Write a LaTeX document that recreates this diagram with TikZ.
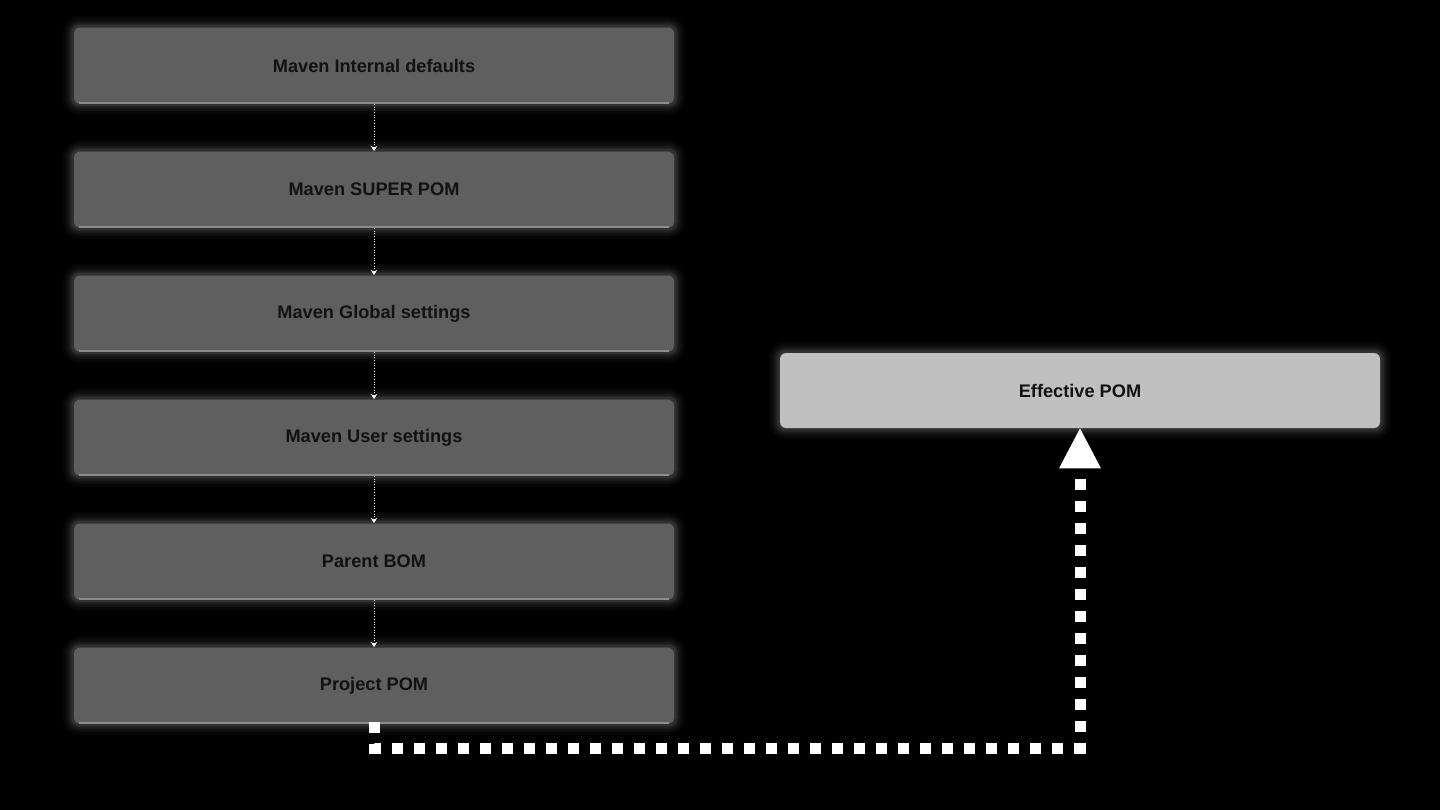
\documentclass[tikz,border=0pt]{standalone}
\usepackage{fontspec}
\setmainfont{Liberation Sans}
\usetikzlibrary{arrows.meta,backgrounds}
\definecolor{boxgray}{HTML}{5F5F5F}
\definecolor{effgray}{HTML}{C0C0C0}
\definecolor{txt}{HTML}{121212}
\definecolor{edge}{HTML}{8C8C8C}
\tikzset{
  box/.style={rectangle, rounded corners=3pt, fill=boxgray, minimum width=300pt, minimum height=38pt,
    inner sep=0pt, text=txt, font=\fontsize{9.1}{11}\selectfont\bfseries},
  effbox/.style={box, fill=effgray, minimum height=37.5pt},
  smallarrow/.style={draw=white, line width=0.45pt, dash pattern=on 0.45pt off 0.9pt, -{Stealth[length=2.6pt,width=3.2pt]}},
  bigconn/.style={draw=white, line width=5.5pt, dash pattern=on 5.5pt off 5.5pt,
    -{Triangle[width=21pt,length=20pt,line width=0pt]}},
  glowline/.style={draw=white, rounded corners=3pt},
  edgeline/.style={draw=edge, line width=1pt},
}
\newcommand{\glowbox}[1]{%
  \foreach \k/\o in {11/0.02,9/0.025,7/0.03,5/0.04,3.5/0.05,2/0.06}{%
    \draw[glowline, line width=\k pt, draw opacity=\o] (#1.south west) rectangle (#1.north east);
  }%
}
\newcommand{\bottomedge}[1]{%
  \draw[edgeline] ([xshift=2.5pt,yshift=0.5pt]#1.south west) -- ([xshift=-2.5pt,yshift=0.5pt]#1.south east);
}
\begin{document}
\begin{tikzpicture}[x=0.5pt, y=-0.5pt]
\useasboundingbox (0,0) rectangle (1440,810);
\begin{scope}[on background layer]
  \fill[black] (0,0) rectangle (1440,810);
\end{scope}

\node[box] (n1) at (374,65.5) {Maven Internal defaults};
\node[box] (n2) at (374,189.5) {Maven SUPER POM};
\node[box] (n3) at (374,313.5) {Maven Global settings};
\node[box] (n4) at (374,437.5) {Maven User settings};
\node[box] (n5) at (374,561.5) {Parent BOM};
\node[box] (n6) at (374,685.5) {Project POM};
\node[effbox] (eff) at (1080,390.5) {Effective POM};

\begin{scope}[on background layer]
  \foreach \n in {n1,n2,n3,n4,n5,n6,eff}{\glowbox{\n}}
\end{scope}
\foreach \n in {n1,n2,n3,n4,n5,n6}{\bottomedge{\n}}

\draw[smallarrow] (n1.south) -- (n2.north);
\draw[smallarrow] (n2.south) -- (n3.north);
\draw[smallarrow] (n3.south) -- (n4.north);
\draw[smallarrow] (n4.south) -- (n5.north);
\draw[smallarrow] (n5.south) -- (n6.north);

\coordinate (turn) at (374,748);
\draw[bigconn] ([yshift=1pt]n6.south) -- (turn) -| (eff.south);
\end{tikzpicture}
\end{document}
